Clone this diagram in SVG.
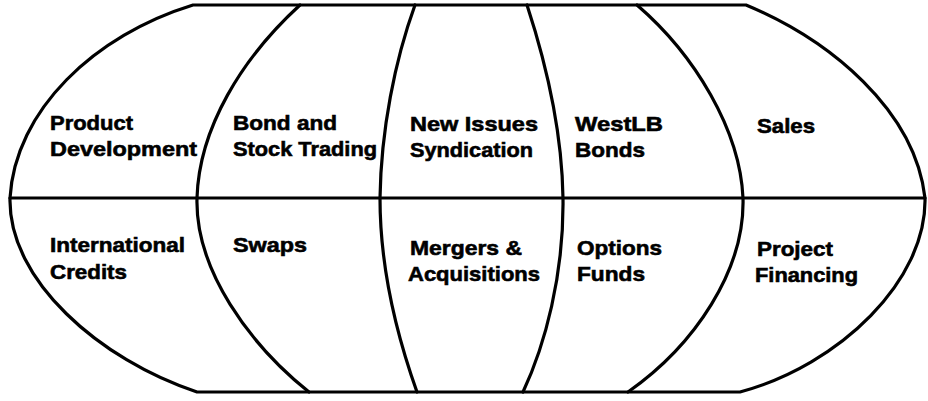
<svg xmlns="http://www.w3.org/2000/svg" width="928" height="401" viewBox="0 0 928 401">
  <style>
    .ln { fill: none; stroke: #000; stroke-width: 3.2; stroke-linejoin: round; stroke-linecap: round; }
    .lb { font-family: "Liberation Sans", Arial, Helvetica, sans-serif; font-weight: bold; font-size: 21px; fill: #000; stroke: #000; stroke-width: 0.6; }
  </style>
  <rect width="928" height="401" fill="#fff"/>

  <!-- globe outline, equator and meridians -->
  <g id="globe">
    <path class="ln" d="M193,5 L746,5 C830,40 915,110 925,198 C927,280 840,365 740,392 L197,392 C100,360 8,280 10,198 C15,110 95,35 193,5 Z"/>
    <path class="ln" d="M10,198 L925,198"/>
    <path class="ln" d="M300,5 C242,58 199,128 197,198 C195,270 250,345 309,392"/>
    <path class="ln" d="M415,5 C395,60 381,130 380,198 C380,280 402,350 417,392"/>
    <path class="ln" d="M527,5 C545,60 562,130 563,198 C564,275 545,345 523,392"/>
    <path class="ln" d="M637,5 C695,55 740,130 743,198 C745,270 695,345 628,392"/>
  </g>

  <!-- northern segments -->
  <g id="product-development">
    <text class="lb" x="50" y="130" textLength="83" lengthAdjust="spacingAndGlyphs">Product</text>
    <text class="lb" x="50" y="156" textLength="147" lengthAdjust="spacingAndGlyphs">Development</text>
  </g>
  <g id="bond-stock-trading">
    <text class="lb" x="233" y="130" textLength="104" lengthAdjust="spacingAndGlyphs">Bond and</text>
    <text class="lb" x="233" y="156" textLength="144" lengthAdjust="spacingAndGlyphs">Stock Trading</text>
  </g>
  <g id="new-issues-syndication">
    <text class="lb" x="410" y="131" textLength="128" lengthAdjust="spacingAndGlyphs">New Issues</text>
    <text class="lb" x="410" y="157" textLength="123" lengthAdjust="spacingAndGlyphs">Syndication</text>
  </g>
  <g id="westlb-bonds">
    <text class="lb" x="575" y="131" textLength="88" lengthAdjust="spacingAndGlyphs">WestLB</text>
    <text class="lb" x="575" y="157" textLength="70" lengthAdjust="spacingAndGlyphs">Bonds</text>
  </g>
  <g id="sales">
    <text class="lb" x="757" y="133" textLength="58" lengthAdjust="spacingAndGlyphs">Sales</text>
  </g>

  <!-- southern segments -->
  <g id="international-credits">
    <text class="lb" x="50" y="252" textLength="135" lengthAdjust="spacingAndGlyphs">International</text>
    <text class="lb" x="50" y="279" textLength="77" lengthAdjust="spacingAndGlyphs">Credits</text>
  </g>
  <g id="swaps">
    <text class="lb" x="233" y="252" textLength="74" lengthAdjust="spacingAndGlyphs">Swaps</text>
  </g>
  <g id="mergers-acquisitions">
    <text class="lb" x="410" y="255" textLength="112" lengthAdjust="spacingAndGlyphs">Mergers &amp;</text>
    <text class="lb" x="408" y="281" textLength="132" lengthAdjust="spacingAndGlyphs">Acquisitions</text>
  </g>
  <g id="options-funds">
    <text class="lb" x="577" y="255" textLength="85" lengthAdjust="spacingAndGlyphs">Options</text>
    <text class="lb" x="577" y="281" textLength="68" lengthAdjust="spacingAndGlyphs">Funds</text>
  </g>
  <g id="project-financing">
    <text class="lb" x="757" y="256" textLength="76" lengthAdjust="spacingAndGlyphs">Project</text>
    <text class="lb" x="755" y="282" textLength="103" lengthAdjust="spacingAndGlyphs">Financing</text>
  </g>
</svg>
